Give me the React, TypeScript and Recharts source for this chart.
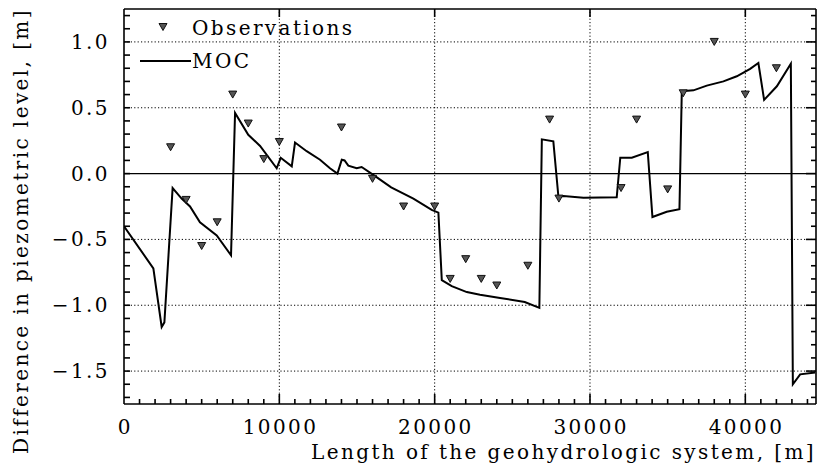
import React from "react";
import {
  ComposedChart,
  Line,
  Scatter,
  XAxis,
  YAxis,
  ReferenceLine,
} from "recharts";

// ---- data ----
const mocX = [
  0, 1890, 2425, 2600, 3130, 3710, 4250, 4890, 5970, 6890, 7150, 8000, 8760,
  9830, 10090, 10800, 11010, 11760, 12620, 13260, 13740, 14020, 14200, 14440,
  14980, 15300, 16050, 17200, 18630, 19810, 20240, 20460, 21100, 22070, 22920,
  24210, 25800, 26740, 26900, 27640, 27970, 28290, 29580, 31720, 31950, 32690,
  33720, 34020, 34940, 35760, 35910, 36660, 37520, 38590, 39450, 40310, 40840,
  41210, 42030, 42930, 43060, 43530, 44500,
];
const mocY = [
  -0.4, -0.72, -1.165, -1.13, -0.11, -0.19, -0.25, -0.37, -0.47, -0.62, 0.46,
  0.295, 0.21, 0.04, 0.12, 0.055, 0.236, 0.17, 0.105, 0.04, 0.0, 0.105, 0.1,
  0.06, 0.04, 0.05, -0.01, -0.105, -0.19, -0.276, -0.297, -0.81, -0.855, -0.9,
  -0.92, -0.945, -0.975, -1.02, 0.26, 0.245, -0.18, -0.17, -0.183, -0.18, 0.12,
  0.12, 0.163, -0.33, -0.29, -0.27, 0.625, 0.632, 0.668, 0.7, 0.739, 0.795,
  0.84, 0.56, 0.663, 0.835, -1.6, -1.525, -1.51,
];
const obsX = [
  3000, 4000, 5000, 6000, 7000, 8000, 9000, 10000, 14000, 16000, 18000, 20000,
  21000, 22000, 23000, 24000, 26000, 27400, 28000, 32000, 33000, 35000, 36000,
  38000, 40000, 42000,
];
const obsY = [
  0.2, -0.2, -0.55, -0.37, 0.6, 0.38, 0.11, 0.24, 0.35, -0.04, -0.25, -0.25,
  -0.8, -0.65, -0.8, -0.85, -0.7, 0.41, -0.19, -0.11, 0.41, -0.12, 0.61, 1.0,
  0.6, 0.8,
];

const xMajorTicks = [0, 10000, 20000, 30000, 40000];
const xMinorTicks = [
  1000, 2000, 3000, 4000, 5000, 6000, 7000, 8000, 9000, 11000, 12000, 13000,
  14000, 15000, 16000, 17000, 18000, 19000, 21000, 22000, 23000, 24000, 25000,
  26000, 27000, 28000, 29000, 31000, 32000, 33000, 34000, 35000, 36000, 37000,
  38000, 39000, 41000, 42000, 43000, 44000,
];
const yMajorTicks = [-1.5, -1.0, -0.5, 0.0, 0.5, 1.0];
const yMinorTicks = [
  -1.7, -1.6, -1.5, -1.4, -1.3, -1.2, -1.1, -1.0, -0.9, -0.8, -0.7, -0.6, -0.5,
  -0.4, -0.3, -0.2, -0.1, 0.0, 0.1, 0.2, 0.3, 0.4, 0.5, 0.6, 0.7, 0.8, 0.9, 1.0,
  1.1, 1.2,
];
const xDomain = [0, 44550];
const yDomain = [-1.75, 1.25];

const xTitle = "Length of the geohydrologic system, [m]";
const yTitle = "Difference in piezometric level, [m]";
const legendObs = "Observations";
const legendMoc = "MOC";

const mocData = mocX.map((x, i) => ({ x, y: mocY[i] }));
const obsData = obsX.map((x, i) => ({ x, y: obsY[i] }));

const FONT = "'DejaVu Serif', serif";
const FS = 20;
const LS = 2.4;

// plot frame (pixels) – matches the chart margins/axis sizes below
const PL = 124;
const PR = 816;
const PT = 9;
const PB = 404;
const sx = (v: number) =>
  PL + ((v - xDomain[0]) / (xDomain[1] - xDomain[0])) * (PR - PL);
const sy = (v: number) =>
  PB - ((v - yDomain[0]) / (yDomain[1] - yDomain[0])) * (PB - PT);

const fmtY = (v: number) => {
  const s = Math.abs(v).toFixed(1);
  return Math.abs(v) < 1e-9 ? "0.0" : v < 0 ? "\u2212" + s : s;
};

const LeftTick = (props: any) => {
  const { x, y, payload } = props;
  return (
    <text
      x={x - 14}
      y={y}
      dy={7}
      textAnchor="end"
      fontFamily={FONT}
      fontSize={FS}
      letterSpacing={LS}
      fill="#000"
    >
      {fmtY(payload.value)}
    </text>
  );
};

const BottomTick = (props: any) => {
  const { x, y, payload } = props;
  return (
    <text
      x={x + LS / 2}
      y={y + 30}
      textAnchor="middle"
      fontFamily={FONT}
      fontSize={FS}
      letterSpacing={LS}
      fill="#000"
    >
      {String(payload.value)}
    </text>
  );
};

const Tri = (props: any) => {
  const { cx, cy } = props;
  if (cx == null || cy == null) return null;
  return (
    <path
      d={`M${cx - 4},${cy - 3.5} L${cx + 4},${cy - 3.5} L${cx},${cy + 3.5} Z`}
      fill="#555"
      stroke="#111"
      strokeWidth={1}
    />
  );
};

const XTitle = (props: any) => {
  const vb = props.viewBox || {};
  return (
    <text
      x={vb.x + vb.width}
      y={vb.y + 55}
      textAnchor="end"
      fontFamily={FONT}
      fontSize={FS}
      letterSpacing={LS}
      fill="#000"
    >
      {xTitle}
    </text>
  );
};

const YTitle = () => {
  const cx = 28;
  const cy = 231;
  return (
    <text
      x={cx}
      y={cy}
      transform={`rotate(-90 ${cx} ${cy})`}
      textAnchor="middle"
      fontFamily={FONT}
      fontSize={FS}
      letterSpacing={LS}
      fill="#000"
    >
      {yTitle}
    </text>
  );
};

const axisStroke = { stroke: "#000", strokeWidth: 1.6 };
const TK = { stroke: "#000", strokeWidth: 1.6 };

const isMajorY = (v: number) => yMajorTicks.some((t) => Math.abs(t - v) < 1e-9);

export default function App() {
  return (
    <div
      style={{
        position: "absolute",
        left: 0,
        top: 0,
        width: 822,
        height: 465,
        background: "#fff",
      }}
    >
      <ComposedChart
        width={822}
        height={465}
        margin={{ top: 9, right: 6, left: 0, bottom: 0 }}
      >
        <XAxis
          xAxisId={0}
          type="number"
          dataKey="x"
          domain={xDomain}
          allowDataOverflow
          ticks={xMajorTicks}
          interval={0}
          height={61}
          tickSize={0}
          tickMargin={0}
          tickLine={false}
          axisLine={axisStroke}
          tick={<BottomTick />}
          label={<XTitle />}
        />
        <YAxis
          yAxisId={0}
          type="number"
          domain={yDomain}
          allowDataOverflow
          ticks={yMajorTicks}
          interval={0}
          width={124}
          tickSize={0}
          tickMargin={0}
          tickLine={false}
          axisLine={axisStroke}
          tick={<LeftTick />}
          label={<YTitle />}
        />
        {yMajorTicks
          .filter((v) => v !== 0)
          .map((v) => (
            <ReferenceLine
              key={"gy" + v}
              y={v}
              xAxisId={0}
              yAxisId={0}
              stroke="#000"
              strokeWidth={1}
              strokeDasharray="1.2 2.2"
            />
          ))}
        {xMajorTicks
          .filter((v) => v !== 0)
          .map((v) => (
            <ReferenceLine
              key={"gx" + v}
              x={v}
              xAxisId={0}
              yAxisId={0}
              stroke="#000"
              strokeWidth={1}
              strokeDasharray="1.2 2.2"
            />
          ))}
        <ReferenceLine
          y={0}
          xAxisId={0}
          yAxisId={0}
          stroke="#000"
          strokeWidth={1.2}
        />
        <ReferenceLine
          y={yDomain[1]}
          xAxisId={0}
          yAxisId={0}
          stroke="#000"
          strokeWidth={1.6}
        />
        <ReferenceLine
          x={xDomain[1]}
          xAxisId={0}
          yAxisId={0}
          stroke="#000"
          strokeWidth={1.6}
        />
        <Line
          data={mocData}
          dataKey="y"
          xAxisId={0}
          yAxisId={0}
          type="linear"
          stroke="#000"
          strokeWidth={2}
          dot={false}
          activeDot={false}
          isAnimationActive={false}
        />
        <Scatter
          data={obsData}
          dataKey="y"
          xAxisId={0}
          yAxisId={0}
          shape={<Tri />}
          isAnimationActive={false}
        />
      </ComposedChart>
      <svg
        width={822}
        height={465}
        style={{ position: "absolute", left: 0, top: 0, pointerEvents: "none" }}
      >
        {/* frame tick marks */}
        {yMinorTicks.map((v) => (
          <line key={"l" + v} x1={PL} y1={sy(v)} x2={PL + 6} y2={sy(v)} {...TK} />
        ))}
        {yMinorTicks.map((v) => (
          <line
            key={"r" + v}
            x1={PR - (isMajorY(v) ? 10 : 5)}
            y1={sy(v)}
            x2={PR}
            y2={sy(v)}
            {...TK}
          />
        ))}
        {xMinorTicks.map((v) => (
          <line key={"b" + v} x1={sx(v)} y1={PB} x2={sx(v)} y2={PB - 5} {...TK} />
        ))}
        {xMajorTicks
          .filter((v) => v !== 0)
          .map((v) => (
            <line key={"bm" + v} x1={sx(v)} y1={PB} x2={sx(v)} y2={PB - 10} {...TK} />
          ))}
        {xMajorTicks
          .filter((v) => v !== 0)
          .map((v) => (
            <line key={"tm" + v} x1={sx(v)} y1={PT} x2={sx(v)} y2={PT + 8} {...TK} />
          ))}
        {/* legend */}
        <path
          d="M159,23.5 L167,23.5 L163,30.5 Z"
          fill="#555"
          stroke="#111"
          strokeWidth={1}
        />
        <text
          x={192}
          y={35}
          fontFamily={FONT}
          fontSize={FS}
          letterSpacing={LS}
          fill="#000"
        >
          {legendObs}
        </text>
        <line x1={140} y1={61} x2={191} y2={61} stroke="#000" strokeWidth={2} />
        <text
          x={192}
          y={68}
          fontFamily={FONT}
          fontSize={FS}
          letterSpacing={LS}
          fill="#000"
        >
          {legendMoc}
        </text>
      </svg>
    </div>
  );
}
